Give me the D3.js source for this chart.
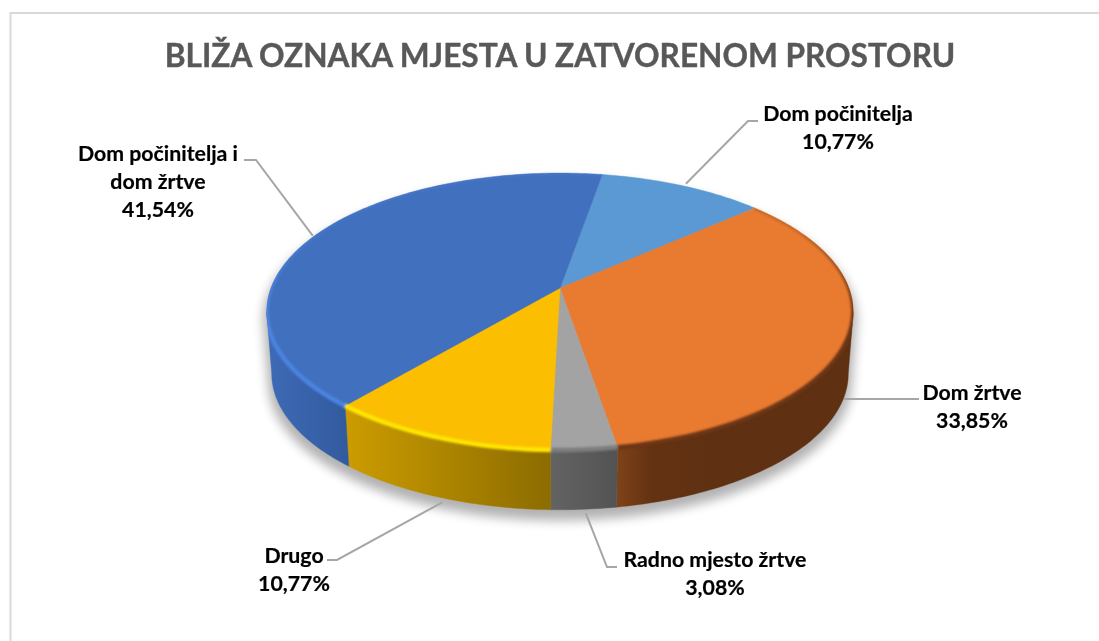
<!DOCTYPE html>
<html>
<head>
<meta charset="utf-8">
<script src="https://cdn.jsdelivr.net/npm/d3@7"></script>
<style>
html,body{margin:0;padding:0;background:#fff;}
svg{display:block;}
text{font-family:Lato,"Open Sans",sans-serif;font-weight:700;}
</style>
</head>
<body>
<svg id="c" width="1099" height="641"></svg>
<script>
// ---- data ----
const chartTitle = "BLIŽA OZNAKA MJESTA U ZATVORENOM PROSTORU";
const categories = ["Dom počinitelja", "Dom žrtve", "Radno mjesto žrtve", "Drugo", "Dom počinitelja i dom žrtve"];
const values = [10.77, 33.85, 3.08, 10.77, 41.54];
const valueLabels = ["10,77%", "33,85%", "3,08%", "10,77%", "41,54%"];
const labelLines = [["Dom počinitelja"], ["Dom žrtve"], ["Radno mjesto žrtve"], ["Drugo"], ["Dom počinitelja i", "dom žrtve"]];

// ---- styles ----
const topColors = ["#5a99d4", "#e97b31", "#a3a3a3", "#fbbe00", "#4170bf"];
const wallStops = [
  ["#3f6c96", "#3f6c96"],
  ["#7f4318", "#633212", "#5f3112", "#5f3112"],
  ["#636363", "#535353"],
  ["#cc9c00", "#8c6c00"],
  ["#3e6bb6", "#325a9e"]
];
const rimColors = ["#5a99d4", "#6a3614", "#7d7d7d", "#ffe600", "#4c84e0"];

// ---- layout ----
const W = 1099, H = 641;
const apex = {x: 560, y: 288};
const A = 289, B = 134.5, K = 0.17;       // projective tilt of the disc
const wallDrop = 62.5, wallScale = 0.983;
const startDeg = 9.85;
const rad = d => d * Math.PI / 180;
const silhouetteCos = -K;
const frontStart = Math.acos(silhouetteCos), frontEnd = 2 * Math.PI - frontStart;

function topPt(t) {
  const w = 1 + K * Math.cos(t);
  return [apex.x + A * Math.sin(t) / w, apex.y - B * Math.cos(t) / w];
}
function botPt(t) {
  const p = topPt(t);
  return [apex.x + (p[0] - apex.x) * wallScale, apex.y + (p[1] - apex.y) * wallScale + wallDrop];
}
function sample(a0, a1) {
  const n = Math.max(2, Math.ceil(Math.abs(a1 - a0) / rad(1)));
  return d3.range(n + 1).map(i => a0 + (a1 - a0) * i / n);
}

const svg = d3.select("#c");
const defs = svg.append("defs");
const lineGen = d3.line();

const pieGen = d3.pie().sort(null).startAngle(rad(startDeg)).endAngle(rad(startDeg + 360));
const arcs = pieGen(values);

defs.append("filter").attr("id", "soft").attr("filterUnits", "userSpaceOnUse").attr("x", 0).attr("y", 0).attr("width", W).attr("height", H)
  .append("feGaussianBlur").attr("stdDeviation", 5);
defs.append("filter").attr("id", "rimBlur").attr("filterUnits", "userSpaceOnUse").attr("x", 0).attr("y", 0).attr("width", W).attr("height", H)
  .append("feGaussianBlur").attr("stdDeviation", 1.3);
defs.append("filter").attr("id", "txt").attr("filterUnits", "userSpaceOnUse").attr("x", 0).attr("y", 0).attr("width", W).attr("height", H)
  .append("feGaussianBlur").attr("stdDeviation", 0.45);

// frame (top and left only)
svg.append("path").attr("d", lineGen([[W, 13], [10.5, 13], [10.5, H]]))
  .attr("fill", "none").attr("stroke", "#d9d9d9").attr("stroke-width", 2);

// whole outline used by shadow and clip
const allAngles = sample(0, 2 * Math.PI);
const hull = d3.polygonHull(allAngles.map(topPt).concat(allAngles.map(botPt)));
defs.append("clipPath").attr("id", "discClip").append("path").attr("d", lineGen(hull) + "Z");

// shadow
svg.append("path")
  .attr("d", lineGen(hull) + "Z")
  .attr("transform", `translate(${apex.x},${apex.y + 8}) scale(1.012) translate(${-apex.x},${-apex.y})`)
  .attr("fill", "#000").attr("opacity", 0.3).attr("filter", "url(#soft)");

// leader lines: start on the slice's edge, then run to the label
const leaderFrom = [topPt, botPt, botPt, botPt, topPt];
const leaderStartNudge = [[3, -2], [0, 0], [2, 4], [3, 5], [-3, 1]];
const leaderElbows = [
  [[748, 121], [758, 121]],
  [[919, 399]],
  [[607, 567], [617, 567]],
  [[337, 560], [327, 560]],
  [[256, 160], [244, 160]]
];
arcs.forEach((d, i) => {
  const mid = (d.startAngle + d.endAngle) / 2;
  const p = leaderFrom[i](mid);
  const s = [p[0] + leaderStartNudge[i][0], p[1] + leaderStartNudge[i][1]];
  if (i === 1) s[1] = leaderElbows[i][0][1];
  svg.append("path").attr("d", lineGen([s].concat(leaderElbows[i])))
    .attr("fill", "none").attr("stroke", "#a6a6a6").attr("stroke-width", 2);
});

// walls
arcs.forEach((d, i) => {
  const a0 = Math.max(d.startAngle, frontStart), a1 = Math.min(d.endAngle, frontEnd);
  if (a1 <= a0) return;
  const ts = sample(a0, a1);
  const xs = ts.map(topPt).concat(ts.map(botPt)).map(p => p[0]);
  const gid = "wall" + i;
  const g = defs.append("linearGradient").attr("id", gid).attr("gradientUnits", "userSpaceOnUse")
    .attr("x1", d3.min(xs)).attr("x2", d3.max(xs)).attr("y1", 0).attr("y2", 0);
  const stops = wallStops[i];
  const offs = stops.length === 4 ? [0, 0.15, 0.4, 1] : [0, 1];
  stops.forEach((c, j) => g.append("stop").attr("offset", offs[j]).attr("stop-color", c));
  const poly = ts.map(topPt).concat(ts.slice().reverse().map(botPt));
  svg.append("path").attr("d", lineGen(poly) + "Z").attr("fill", `url(#${gid})`)
    .attr("stroke", `url(#${gid})`).attr("stroke-width", 0.4);
});

// top faces
arcs.forEach((d, i) => {
  const pts = [[apex.x, apex.y]].concat(sample(d.startAngle, d.endAngle).map(topPt));
  svg.append("path").attr("d", lineGen(pts) + "Z").attr("fill", topColors[i])
    .attr("stroke", topColors[i]).attr("stroke-width", 0.4);
});

// bevel rim along the front edge of each slice
const rimG = svg.append("g").attr("clip-path", "url(#discClip)");
const fade = defs.append("linearGradient").attr("id", "rimFade").attr("gradientUnits", "userSpaceOnUse")
  .attr("x1", 0).attr("x2", 0).attr("y1", 230).attr("y2", 320);
fade.append("stop").attr("offset", 0).attr("stop-color", "#fff").attr("stop-opacity", 0.25);
fade.append("stop").attr("offset", 1).attr("stop-color", "#fff").attr("stop-opacity", 1);
defs.append("mask").attr("id", "rimMask").attr("maskUnits", "userSpaceOnUse")
  .attr("x", 0).attr("y", 0).attr("width", W).attr("height", H)
  .append("rect").attr("width", W).attr("height", H).attr("fill", "url(#rimFade)");
const rimInner = rimG.append("g").attr("mask", "url(#rimMask)").attr("filter", "url(#rimBlur)");
arcs.forEach((d, i) => {
  if (i === 0) return;
  const pts = sample(d.startAngle, d.endAngle).map(topPt);
  rimInner.append("path").attr("d", lineGen(pts)).attr("fill", "none")
    .attr("stroke", rimColors[i]).attr("stroke-width", 4.5);
});

// labels
const labelX = [838, 972, 715, 294, 158];
const labelY = [121, 400, 567, 563, 161];
const lineStep = 28;
arcs.forEach((d, i) => {
  const lines = labelLines[i].concat([valueLabels[i]]);
  const t = svg.append("text").attr("text-anchor", "middle").attr("font-size", 21.3)
    .attr("fill", "#000").attr("stroke", "#000").attr("stroke-width", 0.2).attr("filter", "url(#txt)");
  lines.forEach((s, j) => t.append("tspan").attr("x", labelX[i]).attr("y", labelY[i] + j * lineStep).text(s));
});

// title
svg.append("text").attr("x", 560).attr("y", 67).attr("text-anchor", "middle")
  .attr("font-size", 31.6).attr("fill", "#595959").attr("stroke", "#595959").attr("stroke-width", 0.4)
  .attr("filter", "url(#txt)").text(chartTitle);
</script>
</body>
</html>
